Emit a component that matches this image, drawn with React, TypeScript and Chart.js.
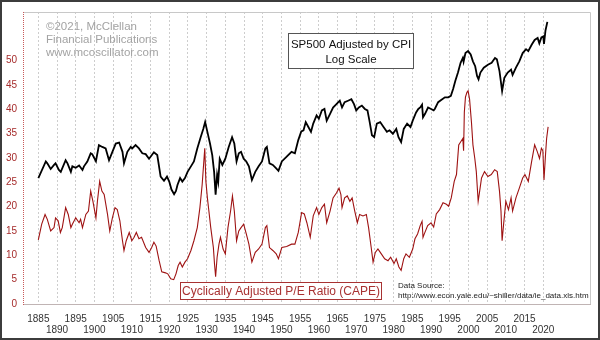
import React, { useEffect, useRef } from 'react';
import { Chart, registerables } from 'chart.js';

Chart.register(...registerables);

const FONT = '"Liberation Sans", Arial, sans-serif';

// S&P 500 adjusted by CPI (real price, plotted on a hidden log scale)
const SPX_YEARS = [
  1885.0, 1887.0, 1887.4, 1888.3, 1889.2, 1889.6, 1890.5, 1891.0, 1892.3, 1892.8,
  1893.7, 1894.1, 1895.0, 1895.9, 1896.8, 1897.2, 1898.1, 1899.0, 1899.4, 1900.4,
  1901.2, 1902.1, 1903.0, 1903.9, 1904.8, 1905.7, 1906.6, 1907.5, 1907.9, 1908.8,
  1909.7, 1910.1, 1911.0, 1911.9, 1912.8, 1913.7, 1914.6, 1915.9, 1916.8, 1917.7,
  1918.6, 1919.4, 1920.0, 1920.6, 1921.3, 1921.8, 1922.2, 1922.9, 1923.5, 1924.2,
  1924.9, 1925.8, 1926.6, 1927.5, 1928.4, 1929.1, 1929.6, 1930.2, 1930.9, 1931.5,
  1932.0, 1932.4, 1932.8, 1933.1, 1933.5, 1934.2, 1935.0, 1935.9, 1936.8, 1937.4,
  1938.0, 1938.6, 1939.2, 1939.9, 1940.6, 1941.3, 1942.1, 1943.0, 1943.9, 1944.8,
  1945.7, 1946.1, 1946.8, 1947.7, 1948.6, 1949.2, 1950.1, 1951.4, 1952.7, 1953.6,
  1954.5, 1955.3, 1955.9, 1956.5, 1957.2, 1957.9, 1958.5, 1959.4, 1960.0, 1960.8,
  1961.5, 1962.1, 1963.0, 1963.8, 1964.7, 1965.6, 1966.2, 1966.9, 1967.8, 1968.7,
  1969.4, 1970.0, 1970.7, 1971.5, 1972.3, 1973.0, 1973.6, 1974.2, 1974.8, 1975.5,
  1976.4, 1977.3, 1978.2, 1978.9, 1979.8, 1980.7, 1981.3, 1982.0, 1982.7, 1983.6,
  1984.5, 1985.1, 1986.0, 1986.6, 1987.1, 1987.6, 1987.85, 1988.4, 1989.2, 1990.0,
  1990.7, 1991.0, 1991.9, 1992.8, 1993.7, 1994.6, 1995.3, 1995.9, 1996.5, 1997.2,
  1997.9, 1998.5, 1998.7, 1999.2, 1999.9, 2000.6, 2001.2, 2001.8, 2002.3, 2002.7,
  2003.2, 2004.1, 2005.2, 2006.2, 2007.1, 2007.6, 2008.3, 2009.0, 2009.6, 2010.5,
  2011.4, 2011.8, 2012.7, 2013.6, 2014.5, 2015.4, 2016.0, 2016.9, 2017.7, 2018.5,
  2018.95, 2019.5, 2020.0, 2020.2, 2020.6, 2021.1,
];
const SPX_REAL = [
  119, 173, 166, 146, 160, 166, 143, 137, 178, 166,
  137, 155, 150, 158, 143, 155, 173, 208, 204, 174,
  250, 240, 232, 178, 215, 259, 265, 215, 166, 215,
  240, 232, 250, 232, 208, 204, 184, 213, 200, 123,
  112, 123, 110, 92, 83, 89, 102, 119, 110, 119,
  137, 155, 173, 232, 299, 360, 420, 337, 259, 200,
  137, 82, 128, 110, 184, 160, 184, 240, 299, 259,
  173, 208, 215, 184, 173, 155, 114, 137, 155, 173,
  232, 240, 166, 160, 148, 140, 173, 193, 215, 208,
  280, 340, 349, 420, 376, 337, 406, 489, 453, 546,
  564, 434, 506, 583, 629, 679, 583, 657, 679, 702,
  629, 546, 583, 609, 564, 546, 420, 312, 299, 406,
  420, 376, 337, 349, 323, 360, 299, 268, 360, 406,
  376, 434, 522, 564, 583, 622, 468, 506, 583, 564,
  546, 564, 657, 694, 733, 733, 757, 883, 1064, 1281,
  1594, 1779, 1630, 1985, 2074, 1921, 1648, 1476, 1186, 1099,
  1281, 1429, 1526, 1594, 1779, 1722, 1324, 845, 1136, 1281,
  1368, 1213, 1429, 1648, 1985, 2167, 2074, 2390, 2667, 2786,
  2470, 2817, 2880, 2443, 3300, 4000,
];

// Cyclically adjusted P/E ratio (CAPE)
const CAPE_YEARS = [
  1885.0, 1885.9, 1886.8, 1887.4, 1888.3, 1889.2, 1889.6, 1890.3, 1890.9, 1891.4,
  1892.3, 1893.0, 1893.7, 1894.1, 1895.0, 1895.9, 1896.3, 1896.8, 1897.7, 1898.4,
  1899.0, 1899.6, 1900.4, 1900.8, 1901.4, 1902.0, 1902.6, 1903.5, 1904.1, 1904.8,
  1905.5, 1906.1, 1906.8, 1907.5, 1907.9, 1908.5, 1909.3, 1910.0, 1910.6, 1911.2,
  1911.9, 1912.6, 1913.7, 1914.6, 1915.3, 1915.9, 1916.5, 1917.3, 1918.0, 1919.0,
  1919.6, 1920.4, 1921.2, 1921.8, 1922.4, 1922.9, 1923.5, 1924.2, 1924.9, 1925.8,
  1926.6, 1927.5, 1928.2, 1928.8, 1929.5, 1929.8, 1930.2, 1930.6, 1931.1, 1931.8,
  1932.1, 1932.4, 1932.8, 1933.3, 1933.7, 1934.4, 1935.0, 1935.7, 1936.4, 1936.9,
  1937.4, 1938.0, 1938.6, 1939.2, 1939.9, 1940.6, 1941.3, 1942.1, 1943.0, 1943.9,
  1944.8, 1945.7, 1946.1, 1946.8, 1947.7, 1948.6, 1949.2, 1950.1, 1951.4, 1952.7,
  1953.6, 1954.5, 1955.4, 1956.1, 1956.8, 1957.7, 1958.5, 1959.4, 1960.0, 1960.8,
  1961.5, 1962.1, 1963.0, 1963.8, 1964.7, 1965.4, 1965.9, 1966.2, 1966.9, 1967.6,
  1968.3, 1968.9, 1969.6, 1970.3, 1970.9, 1971.8, 1972.7, 1973.3, 1974.0, 1974.5,
  1975.1, 1975.8, 1976.7, 1977.6, 1978.5, 1979.2, 1980.1, 1980.7, 1981.4, 1982.0,
  1982.7, 1983.3, 1984.2, 1985.1, 1985.7, 1986.4, 1987.1, 1987.6, 1987.85, 1988.2,
  1989.1, 1990.0, 1990.7, 1991.4, 1992.3, 1993.2, 1994.1, 1994.7, 1995.4, 1996.2,
  1996.8, 1997.4, 1997.9, 1998.5, 1998.7, 1998.9, 1999.2, 1999.6, 1999.9, 2000.3,
  2000.8, 2001.2, 2001.7, 2002.1, 2002.6, 2003.0, 2003.5, 2004.3, 2005.2, 2006.1,
  2007.0, 2007.7, 2008.3, 2008.7, 2009.0, 2009.4, 2010.0, 2010.7, 2011.4, 2011.8,
  2012.7, 2013.6, 2014.5, 2015.1, 2016.0, 2016.9, 2017.7, 2018.4, 2019.0, 2019.5,
  2019.9, 2020.2, 2020.6, 2020.9, 2021.3,
];
const CAPE_VALUES = [
  13.2, 16.4, 18.4, 17.4, 15.0, 15.7, 17.7, 17.1, 14.7, 15.7,
  19.8, 18.4, 15.7, 16.4, 17.7, 16.7, 17.4, 15.7, 18.4, 19.1,
  23.2, 21.1, 17.7, 21.1, 25.2, 23.2, 22.5, 18.4, 15.0, 17.7,
  19.8, 19.4, 17.1, 13.0, 11.0, 13.0, 14.7, 13.0, 13.7, 14.7,
  13.4, 13.7, 11.6, 10.6, 11.6, 12.7, 11.9, 8.9, 6.6, 6.4,
  6.2, 5.2, 5.0, 6.2, 7.9, 8.6, 7.6, 8.6, 9.3, 11.0,
  13.0, 15.7, 19.8, 24.5, 32.0, 25.2, 21.8, 19.1, 15.7, 11.6,
  8.3, 5.6, 9.6, 12.3, 13.7, 11.3, 10.3, 15.7, 19.1, 22.2,
  19.1, 13.0, 15.0, 15.7, 16.4, 14.4, 12.3, 8.6, 10.6, 11.3,
  12.3, 15.7, 16.1, 11.6, 11.0, 10.3, 9.3, 11.6, 11.8, 12.3,
  12.3, 14.7, 18.8, 18.5, 16.7, 13.7, 18.1, 19.8, 18.4, 19.8,
  20.5, 16.7, 19.1, 21.8, 22.8, 23.8, 22.5, 19.8, 21.8, 22.2,
  21.1, 21.8, 19.1, 16.7, 18.4, 18.1, 18.4, 15.7, 11.6, 8.6,
  10.6, 11.3, 10.3, 9.3, 8.9, 9.6, 8.3, 9.3, 7.6, 6.9,
  9.3, 10.3, 9.6, 11.3, 13.4, 14.4, 16.1, 17.0, 13.7, 14.4,
  16.1, 16.7, 15.8, 18.5, 19.4, 20.8, 20.5, 20.1, 21.8, 25.2,
  26.6, 32.7, 33.3, 34.0, 31.5, 39.4, 42.5, 43.5, 43.8, 42.1,
  37.4, 32.7, 29.9, 27.2, 21.1, 23.2, 25.9, 27.2, 26.2, 26.6,
  27.6, 27.2, 23.2, 19.1, 13.0, 16.4, 21.1, 19.4, 21.8, 19.1,
  21.8, 23.8, 25.9, 26.6, 25.2, 29.3, 32.7, 31.3, 29.9, 32.0,
  31.5, 25.5, 30.6, 34.0, 36.4,
];

const X_TICKS = [
  1885, 1890, 1895, 1900, 1905, 1910, 1915, 1920, 1925, 1930, 1935, 1940, 1945, 1950,
  1955, 1960, 1965, 1970, 1975, 1980, 1985, 1990, 1995, 2000, 2005, 2010, 2015, 2020,
];
const Y_TICKS = [0, 5, 10, 15, 20, 25, 30, 35, 40, 45, 50];

const COPYRIGHT_LINES = ['©2021, McClellan', 'Financial Publications', 'www.mcoscillator.com'];
const SPX_BOX_LINES = ['SP500 Adjusted by CPI', 'Log Scale'];
const CAPE_LABEL = 'Cyclically Adjusted P/E Ratio (CAPE)';
const SOURCE_LINES = ['Data Source:', 'http://www.econ.yale.edu/~shiller/data/ie_data.xls.htm'];

const decorations = {
  id: 'decorations',
  beforeDraw(chart: any) {
    const ctx = chart.ctx;
    ctx.save();
    ctx.fillStyle = '#ffffff';
    ctx.fillRect(0, 0, chart.width, chart.height);
    ctx.restore();
  },
  beforeDatasetsDraw(chart: any) {
    const { ctx, chartArea: a } = chart;
    ctx.save();
    // plot frame top / right
    ctx.strokeStyle = '#c8c8c8';
    ctx.lineWidth = 1;
    ctx.beginPath();
    ctx.moveTo(a.left, Math.round(a.top) + 0.5);
    ctx.lineTo(Math.round(a.right) + 0.5, Math.round(a.top) + 0.5);
    ctx.lineTo(Math.round(a.right) + 0.5, Math.round(a.bottom));
    ctx.stroke();
    // bottom axis line
    ctx.strokeStyle = '#c0b4b4';
    ctx.beginPath();
    ctx.moveTo(a.left, Math.round(a.bottom) + 0.5);
    ctx.lineTo(Math.round(a.right) + 1, Math.round(a.bottom) + 0.5);
    ctx.stroke();
    // left axis red dotted
    ctx.strokeStyle = '#c85a5a';
    ctx.setLineDash([1, 1]);
    ctx.beginPath();
    ctx.moveTo(Math.round(a.left) + 0.5, a.top);
    ctx.lineTo(Math.round(a.left) + 0.5, a.bottom + 1);
    ctx.stroke();
    ctx.setLineDash([]);
    // copyright
    ctx.fillStyle = '#a3a3a3';
    ctx.font = '11.5px ' + FONT;
    ctx.textAlign = 'left';
    ctx.textBaseline = 'middle';
    COPYRIGHT_LINES.forEach((t, i) => ctx.fillText(t, 46, 27 + i * 13));
    // data source
    ctx.fillStyle = '#222222';
    ctx.font = '8px ' + FONT;
    ctx.fillText(SOURCE_LINES[0], 398, 286);
    ctx.fillText(SOURCE_LINES[1], 398, 296);
    ctx.restore();
  },
  afterDatasetsDraw(chart: any) {
    const { ctx } = chart;
    ctx.save();
    // SP500 box
    ctx.fillStyle = '#ffffff';
    ctx.fillRect(288.5, 33.5, 125, 35);
    ctx.strokeStyle = '#555555';
    ctx.lineWidth = 1;
    ctx.strokeRect(288.5, 33.5, 125, 35);
    ctx.fillStyle = '#111111';
    ctx.font = '11.5px ' + FONT;
    ctx.textAlign = 'center';
    ctx.textBaseline = 'middle';
    ctx.fillText(SPX_BOX_LINES[0], 351, 45);
    ctx.fillText(SPX_BOX_LINES[1], 351, 60);
    // CAPE box
    ctx.fillStyle = '#ffffff';
    ctx.fillRect(180.5, 282.5, 201, 17);
    ctx.strokeStyle = '#a83232';
    ctx.strokeRect(180.5, 282.5, 201, 17);
    ctx.fillStyle = '#a83232';
    ctx.font = '12px ' + FONT;
    ctx.fillText(CAPE_LABEL, 281, 291.5);
    // outer frame
    ctx.strokeStyle = '#3c3c3c';
    ctx.lineWidth = 2;
    ctx.strokeRect(1, 1, chart.width - 2, chart.height - 2);
    ctx.restore();
  },
};

export default function App() {
  const ref = useRef<HTMLCanvasElement | null>(null);

  useEffect(() => {
    if (!ref.current) return;
    const spx = SPX_YEARS.map((x, i) => ({ x, y: SPX_REAL[i] }));
    const cape = CAPE_YEARS.map((x, i) => ({ x, y: CAPE_VALUES[i] }));
    const chart = new Chart(ref.current, {
      type: 'line',
      data: {
        datasets: [
          {
            label: 'SP500 Adjusted by CPI',
            data: spx,
            yAxisID: 'yLog',
            borderColor: '#000000',
            borderWidth: 1.8,
            pointRadius: 0,
            tension: 0,
            fill: false,
          },
          {
            label: CAPE_LABEL,
            data: cape,
            yAxisID: 'y',
            borderColor: '#9e1212',
            borderWidth: 1.1,
            pointRadius: 0,
            tension: 0,
            fill: false,
          },
        ],
      },
      options: {
        animation: false,
        responsive: false,
        devicePixelRatio: 1,
        layout: { padding: { top: 10, right: 10, left: 0, bottom: 0 } },
        plugins: { legend: { display: false }, tooltip: { enabled: false } },
        scales: {
          x: {
            type: 'linear',
            min: 1880.9,
            max: 2032.5,
            afterBuildTicks: (s: any) => {
              s.ticks = X_TICKS.map((v) => ({ value: v }));
            },
            afterFit: (s: any) => {
              s.height = 36;
            },
            ticks: {
              autoSkip: false,
              maxRotation: 0,
              minRotation: 0,
              padding: 10,
              color: '#333333',
              font: { family: FONT, size: 10, lineHeight: 1.1 },
              callback: (v: any, i: number) => (i % 2 === 0 ? [String(v), ''] : ['', String(v)]),
            },
            grid: { color: '#cdcdcd', lineWidth: 1, drawTicks: false },
            border: { display: false, dash: [2, 2] },
          },
          y: {
            type: 'linear',
            position: 'left',
            min: 0,
            max: 60,
            afterBuildTicks: (s: any) => {
              s.ticks = Y_TICKS.map((v) => ({ value: v }));
            },
            afterFit: (s: any) => {
              s.width = 23;
            },
            ticks: {
              padding: 6,
              color: '#a52a2a',
              font: { family: FONT, size: 10 },
            },
            grid: { display: false, drawTicks: false },
            border: { display: false },
          },
          yLog: {
            type: 'logarithmic',
            min: 7,
            max: 5000,
            display: false,
          },
        },
      },
      plugins: [decorations],
    });
    return () => chart.destroy();
  }, []);

  return (
    <div style={{ position: 'fixed', left: 0, top: 0, width: 600, height: 340 }}>
      <canvas ref={ref} width={600} height={340} style={{ width: 600, height: 340, display: 'block' }} />
    </div>
  );
}
